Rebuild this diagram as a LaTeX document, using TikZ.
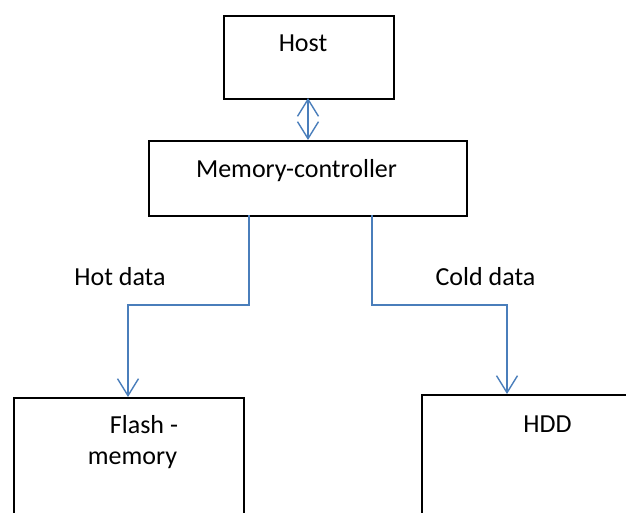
\documentclass[tikz,border=0pt]{standalone}
\usepackage{fontspec}
\setmainfont{Carlito}
\usetikzlibrary{arrows.meta}
\definecolor{linkblue}{HTML}{4A7EBB}
\tikzset{
  box/.style={draw=black, line width=1.8pt, minimum width=#1, inner sep=0pt, anchor=north west},
  lbl/.style={anchor=base, inner sep=0pt, font=\fontsize{26}{31}\selectfont},
  flow/.style={draw=linkblue, line width=1.4pt, -{Straight Barb[length=17pt, width=21pt, line width=1.4pt]}},
  both/.style={draw=linkblue, line width=1.4pt, {Straight Barb[length=17pt, width=21pt, line width=1.4pt]}-{Straight Barb[length=17pt, width=21pt, line width=1.4pt]}}
}
\begin{document}
\begin{tikzpicture}[x=1pt, y=-1pt]
\useasboundingbox (0,0) rectangle (626,513);
\clip (0,0) rectangle (626,513);
\node[box=170pt, minimum height=83pt] (host) at (223,15) {};
\node[box=318pt, minimum height=75pt] (mc) at (148,140) {};
\node[box=230pt, minimum height=140pt] (flash) at (13,397) {};
\node[box=230pt, minimum height=140pt] (hdd) at (421,394) {};
\node[lbl] (hosttxt) at (303,52) {Host};
\node[lbl] (mctxt) at (296.5,178) {Memory-controller};
\node[lbl] (hot) at (120,285) {Hot data};
\node[lbl] (cold) at (485.5,285) {Cold data};
\node[lbl] (flashtxt) at (144,433) {Flash -};
\node[lbl] (memtxt) at (132.5,464) {memory};
\node[lbl] (hddtxt) at (547.5,432) {HDD};
\coordinate (hb) at (308,98);
\coordinate (mt) at (308,140);
\coordinate (ml) at (249,215);
\coordinate (mr) at (372,215);
\coordinate (ft) at (128,397);
\coordinate (ht) at (507,394);
\draw[both] (hb) -- (mt);
\draw[flow] (ml) -- (249,305) -- (128,305) -- (ft);
\draw[flow] (mr) -- (372,305) -- (507,305) -- (ht);
\end{tikzpicture}
\end{document}
